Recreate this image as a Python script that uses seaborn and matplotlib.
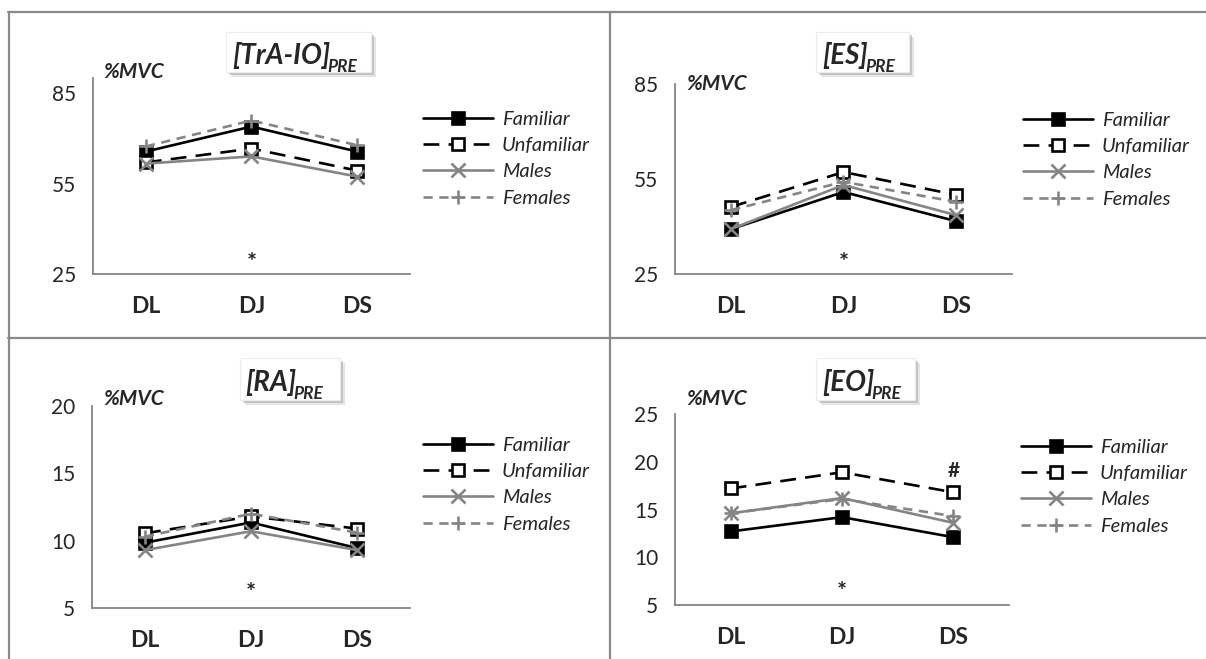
import numpy as np
import pandas as pd
import matplotlib
matplotlib.use("Agg")
import matplotlib.pyplot as plt
import seaborn as sns
from matplotlib.patches import Rectangle

# jump tasks on the x axis
tasks = ["DL", "DJ", "DS"]
groups = ["Familiar", "Unfamiliar", "Males", "Females"]

# %MVC per muscle
tra_io = {"Familiar": [65.6, 73.9, 65.6], "Unfamiliar": [62.0, 66.6, 59.3],
          "Males": [61.6, 64.0, 57.3], "Females": [67.3, 75.9, 67.7]}
es = {"Familiar": [39.2, 50.9, 41.7], "Unfamiliar": [46.2, 57.2, 50.0],
      "Males": [39.2, 53.1, 43.6], "Females": [45.2, 54.1, 47.8]}
ra = {"Familiar": [9.85, 11.35, 9.45], "Unfamiliar": [10.55, 11.8, 10.9],
      "Males": [9.3, 10.7, 9.3], "Females": [10.3, 12.0, 10.6]}
eo = {"Familiar": [12.7, 14.2, 12.1], "Unfamiliar": [17.2, 18.9, 16.8],
      "Males": [14.6, 16.2, 13.6], "Females": [14.6, 16.1, 14.3]}

sns.set_style("white")
plt.rcParams["font.family"] = ["Lato", "DejaVu Sans"]

W, H = 1206, 659
GREY = "#858585"
styles = {
    "Familiar": dict(color="black", marker="s", mfc="black", mec="black", ls="-", lw=1.9),
    "Unfamiliar": dict(color="black", marker="s", mfc="white", mec="black", ls=(0, (6, 3.5)), lw=1.9),
    "Males": dict(color=GREY, marker="x", mfc=GREY, mec=GREY, ls="-", lw=1.9),
    "Females": dict(color=GREY, marker="+", mfc=GREY, mec=GREY, ls=(0, (3.5, 2.5)), lw=1.9),
}

fig = plt.figure(figsize=(W / 100, H / 100), dpi=100)


def fx(px):
    return px / W


def fy(py):
    return 1 - py / H


# panel frame lines
for seg in [((8, 12), (W, 12)), ((9, 12), (9, H)), ((610, 12), (610, H)), ((8, 338), (W, 338))]:
    fig.add_artist(plt.Line2D([fx(seg[0][0]), fx(seg[1][0])], [fy(seg[0][1]), fy(seg[1][1])],
                              color="#8a8a8a", lw=1.6, transform=fig.transFigure))

panels = [
    # data, title, ylim, yticks, axes px (left, right, top, bottom), legend px, title box px, text start, mvc pos, star y
    (tra_io, "[TrA-IO]", (25, 90), [25, 55, 85], (93, 410, 78, 274), (423, 111), (226, 371, 32, 72), (232, 64), (103, 78), 28.6),
    (es, "[ES]", (25, 85), [25, 55, 85], (675, 1012, 84, 274), (1023, 112), (816, 909, 32, 72), (822, 64), (686, 90), 28.4),
    (ra, "[RA]", (5, 20), [5, 10, 15, 20], (92, 410, 406, 608), (423, 437), (240, 340, 358, 400), (245, 391), (103, 405), 6.1),
    (eo, "[EO]", (5, 25), [5, 10, 15, 20, 25], (675, 1009, 414, 605), (1021, 439), (816, 915, 358, 400), (822, 391), (686, 405), 6.3),
]

for i, (data, title, ylim, yticks, rect, leg, box, tstart, mvc, star_y) in enumerate(panels):
    l, r, t, b = rect
    ax = fig.add_axes([fx(l), fy(b), fx(r) - fx(l), fy(t) - fy(b)])
    handles = []
    for g in groups:
        st = styles[g]
        df = pd.DataFrame({"task": tasks, "val": data[g]})
        sns.lineplot(data=df, x="task", y="val", ax=ax, sort=False, errorbar=None,
                     color=st["color"], linestyle=st["ls"], lw=st["lw"], marker=st["marker"],
                     markersize=8 if st["marker"] == "s" else 9.5,
                     markerfacecolor=st["mfc"], markeredgecolor=st["mec"], markeredgewidth=1.9,
                     label=g, legend=False)
        handles.append(ax.get_lines()[-1])
    ax.set_xlim(-0.5, 2.5)
    ax.set_ylim(*ylim)
    ax.set_yticks(yticks)
    ax.set_xticks(range(len(tasks)))
    ax.set_xticklabels(tasks, fontsize=16.5, fontweight="bold")
    ax.set_xticks([-0.5, 0.5, 1.5, 2.5], minor=True)
    ax.tick_params(axis="x", which="major", length=0, pad=16)
    ax.tick_params(axis="x", which="minor", length=7, width=1.2, color=GREY, direction="out")
    ax.tick_params(axis="y", length=7, width=1.2, color=GREY, direction="out", labelsize=15, pad=5)
    ax.set_xlabel("")
    ax.set_ylabel("")
    for s in ["top", "right"]:
        ax.spines[s].set_visible(False)
    for s in ["left", "bottom"]:
        ax.spines[s].set_color(GREY)
        ax.spines[s].set_linewidth(1.3)
    ax.text(1, star_y, "*", ha="center", va="center", fontsize=17, fontweight="bold")
    if title == "[EO]":
        ax.text(2, 19.0, "#", ha="center", va="center", fontsize=15, fontweight="bold")

    ax.legend(handles, groups, loc="upper left", bbox_to_anchor=(fx(leg[0]), fy(leg[1])),
              bbox_transform=fig.transFigure, frameon=False, borderpad=0, borderaxespad=0,
              handlelength=3.5, handletextpad=0.4, labelspacing=0.45,
              prop={"style": "italic", "size": 14.5})

    # title box with a soft shadow
    bl, br, bt, bb = box
    for k, a in [(5, 0.25), (3, 0.45)]:
        fig.add_artist(Rectangle((fx(bl + k), fy(bb + k)), fx(br) - fx(bl), fy(bt) - fy(bb),
                                 transform=fig.transFigure, facecolor="#9a9a9a", edgecolor="none", alpha=a))
    fig.add_artist(Rectangle((fx(bl), fy(bb)), fx(br) - fx(bl), fy(bt) - fy(bb),
                             transform=fig.transFigure, facecolor="white", edgecolor="#ececec", lw=0.8))
    main = fig.text(fx(tstart[0]), fy(tstart[1]), title, ha="left", va="baseline",
                    fontsize=20, fontweight="bold", style="italic")
    fig.add_artist(plt.Annotation("PRE", xy=(1, 0), xycoords=main, xytext=(-2, -4),
                                  textcoords="offset points", ha="left", va="bottom",
                                  fontsize=12.5, fontweight="bold", style="italic"))
    fig.text(fx(mvc[0]), fy(mvc[1]), "%MVC", ha="left", va="baseline",
             fontsize=15, fontweight="bold", style="italic")

fig.savefig("out.png", dpi=100)
